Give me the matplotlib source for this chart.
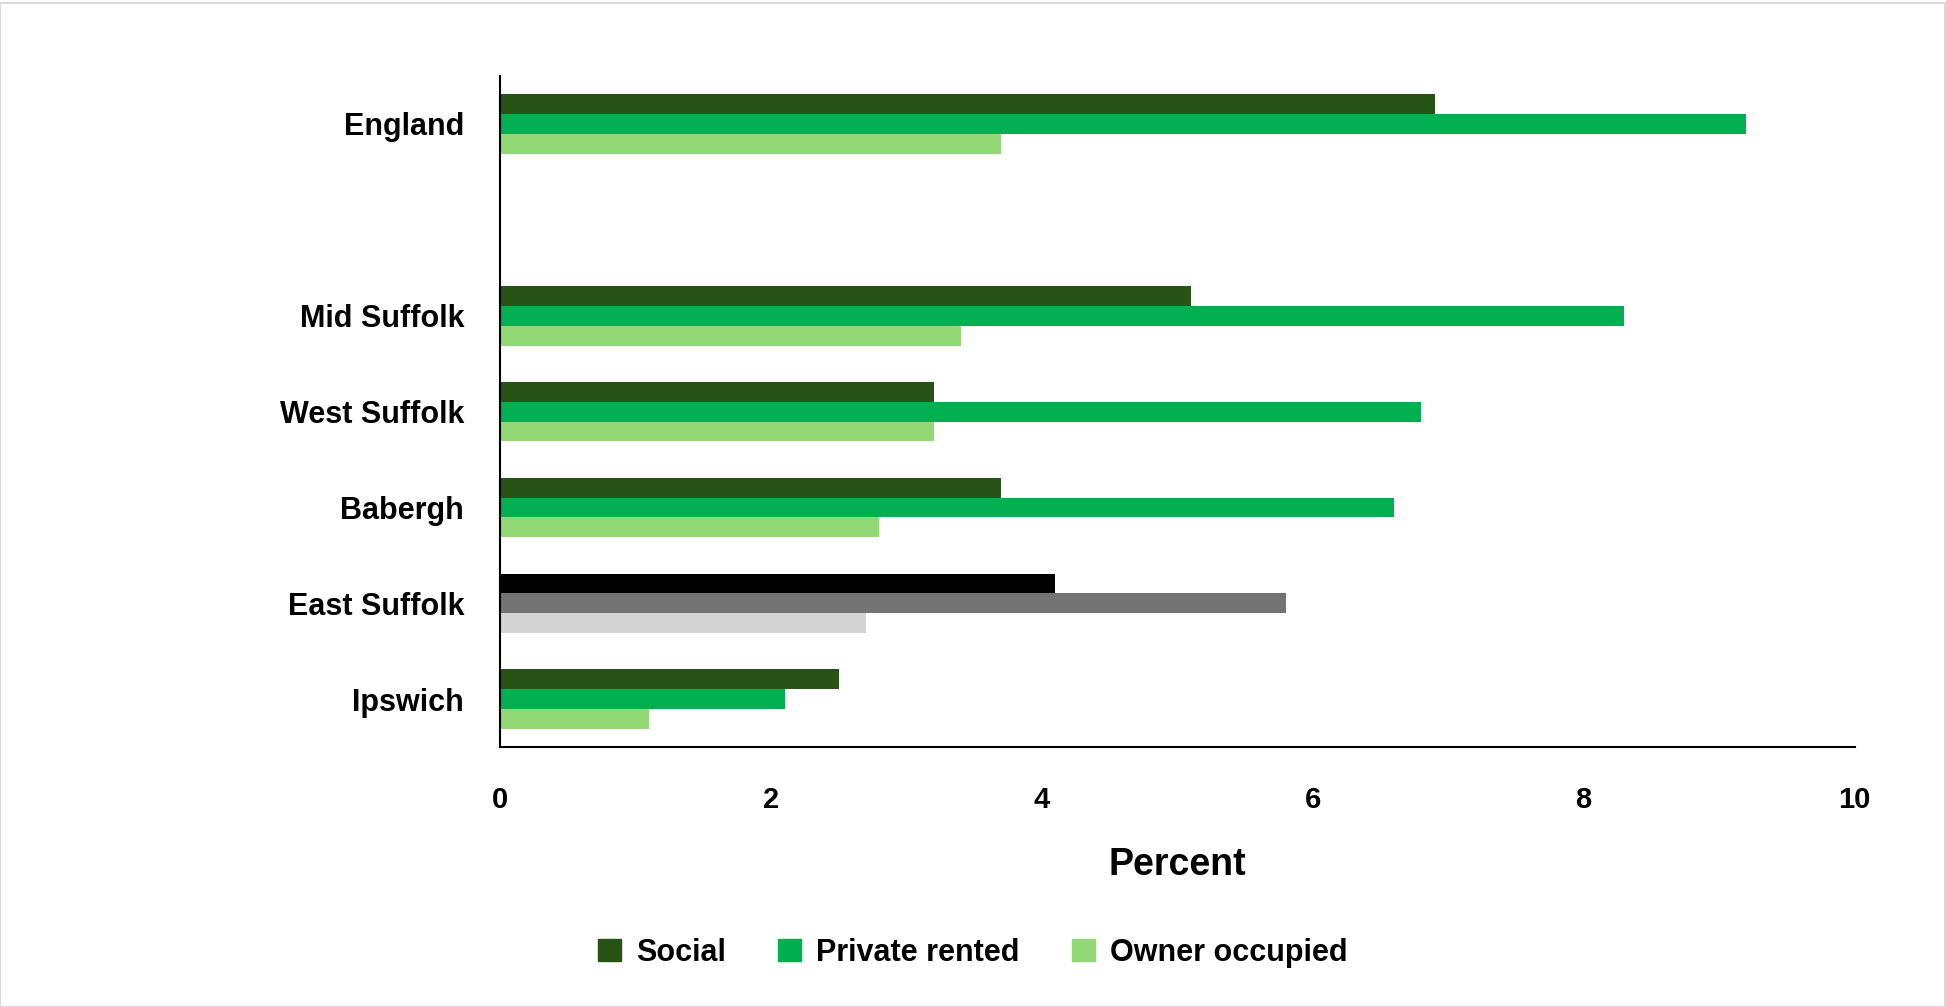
import matplotlib.pyplot as plt
import numpy as np
from matplotlib.patches import Rectangle

# Data (bottom to top as drawn)
areas = ["Ipswich", "East Suffolk", "Babergh", "West Suffolk", "Mid Suffolk", "", "England"]
social = [2.5, 4.1, 3.7, 3.2, 5.1, np.nan, 6.9]
private_rented = [2.1, 5.8, 6.6, 6.8, 8.3, np.nan, 9.2]
owner_occupied = [1.1, 2.7, 2.8, 3.2, 3.4, np.nan, 3.7]

series_names = ["Social", "Private rented", "Owner occupied"]
colors = ["#275317", "#00B050", "#92D975"]
# East Suffolk highlighted in greys
highlight = "East Suffolk"
grey_colors = ["#000000", "#737373", "#D3D3D3"]

plt.rcParams['font.family'] = ['Liberation Sans', 'DejaVu Sans']
plt.rcParams['font.weight'] = 'bold'

fig = plt.figure(figsize=(19.46, 10.07), dpi=100)
ax = fig.add_axes([0.257, 0.258, 0.696, 0.6665])

y = np.arange(len(areas))
h = 0.207
offsets = [h, 0, -h]
for vals, name, col, off, gcol in zip([social, private_rented, owner_occupied], series_names, colors, offsets, grey_colors):
    bar_cols = [gcol if a == highlight else col for a in areas]
    ax.barh(y + off, vals, height=h, color=bar_cols, label=name)

ax.set_xlim(0, 10)
ax.set_ylim(-0.5, len(areas) - 0.5)
ax.set_yticks(y)
ax.set_yticklabels(areas, fontsize=22, fontweight='bold')
ax.set_xticks([0, 2, 4, 6, 8, 10])
ax.tick_params(axis='x', labelsize=21, length=0, pad=28)
ax.tick_params(axis='y', length=0, pad=26)
for lab in ax.get_xticklabels():
    lab.set_fontweight('bold')
ax.set_xlabel("Percent", fontsize=27, fontweight='bold', labelpad=24)

for s in ['top', 'right']:
    ax.spines[s].set_visible(False)
for s in ['left', 'bottom']:
    ax.spines[s].set_linewidth(1.5)
    ax.spines[s].set_color('black')

handles = [Rectangle((0, 0), 1, 1, color=c) for c in colors]
fig.legend(handles, series_names, loc='center', bbox_to_anchor=(0.5, 0.054), ncol=3, frameon=False,
           prop={'size': 22, 'weight': 'bold'}, handlelength=0.75, handleheight=0.75,
           columnspacing=1.7, handletextpad=0.5)

# light outer border
fig.patches.append(Rectangle((0, 0), 0.9995, 0.997, transform=fig.transFigure, fill=False,
                             edgecolor='#D9D9D9', linewidth=1.5))

fig.savefig("out.png", dpi=100)
